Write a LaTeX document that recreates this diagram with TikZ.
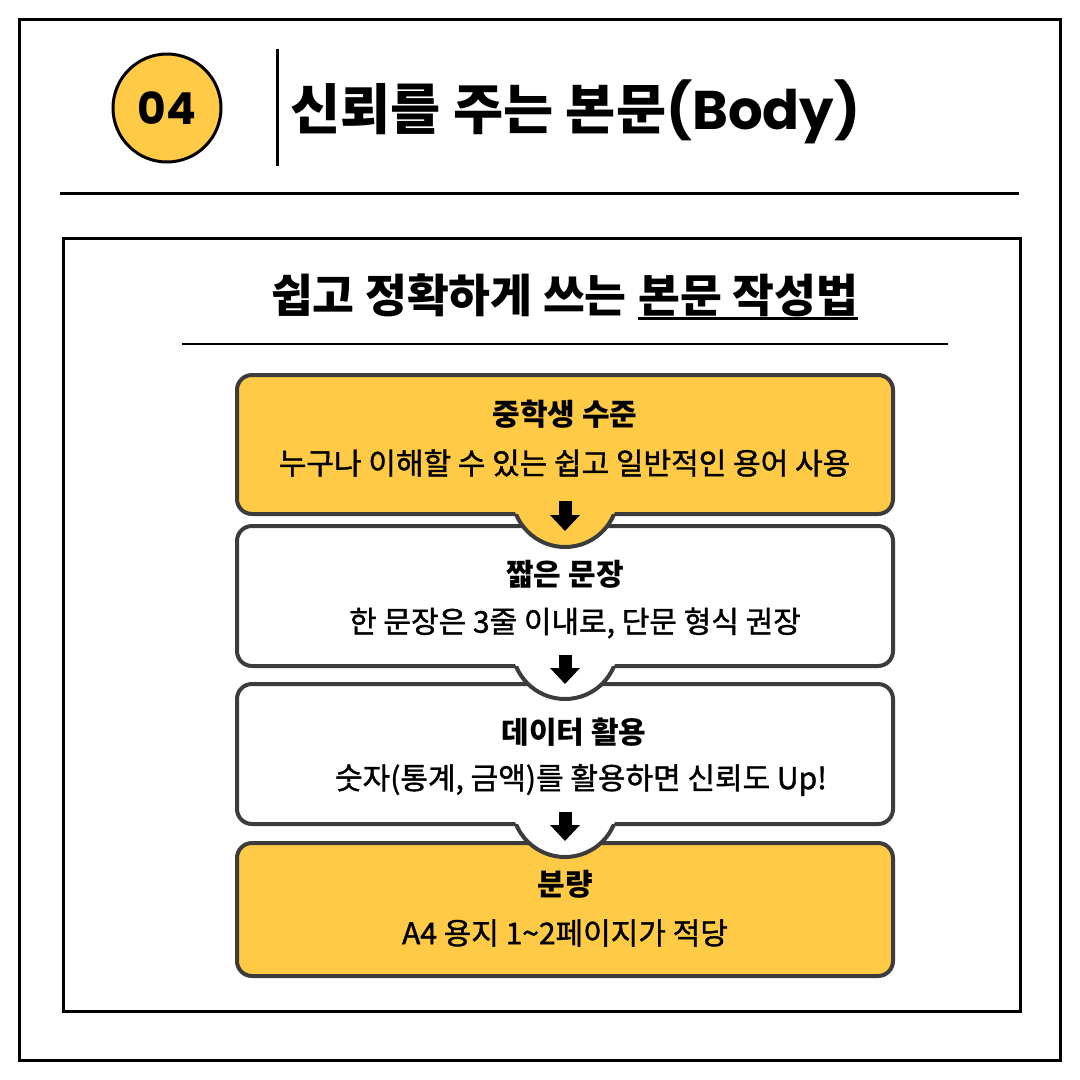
\documentclass[tikz,border=0pt]{standalone}
\usepackage{fontspec}
\setmainfont{Noto Sans CJK KR}
\newfontfamily\pop{Poppins}
\newfontfamily\krmed{Noto Sans CJK KR}[FakeBold=1.3]
\usetikzlibrary{arrows.meta}
\definecolor{yel}{HTML}{FFCB47}
\definecolor{bd}{HTML}{3C3C3C}
\tikzset{
  stepbox/.style={draw=bd, line width=4pt, rounded corners=15pt, minimum width=656pt, inner sep=0pt},
  headtxt/.style={inner sep=0pt, font=\fontsize{30}{30}\selectfont\bfseries},
  bodytxt/.style={inner sep=0pt, font=\fontsize{30}{30}\selectfont\krmed},
  downarr/.style={line width=13pt, -{Triangle[width=29pt,length=16pt]}},
  rulew/.style={line width=3pt}
}
\newcommand{\mybump}[2]{%
  \begin{scope}\clip (0,#1-3) rectangle (1080,#1+70); \fill[#2] (565,#1-20) circle (53); \end{scope}
  \begin{scope}\clip (0,#1) rectangle (1080,#1+70); \draw[bd, line width=4pt] (565,#1-20) circle (53); \end{scope}}
\begin{document}
\begin{tikzpicture}[x=1pt,y=-1pt]
\useasboundingbox (0,0) rectangle (1080,1080);
\fill[white] (0,0) rectangle (1080,1080);
\draw[rulew] (19,19) rectangle (1060,1060);
% header
\node[circle, draw, line width=3pt, fill=yel, minimum size=108pt, inner sep=0pt] (num) at (167,108) {\pop\bfseries\fontsize{44}{44}\selectfont 04};
\coordinate (vt) at (277,49);
\coordinate (vb) at (277,166);
\draw[rulew] (vt) -- (vb);
\node[anchor=west, inner sep=0pt] (title) at (290,112) {\fontsize{54.5}{54.5}\selectfont\bfseries 신뢰를 주는 본문{\pop(Body)}};
\coordinate (h1a) at (60,193);
\coordinate (h1b) at (1019,193);
\draw[rulew] (h1a) -- (h1b);
% inner frame
\draw[rulew] (63,238) rectangle (1020,1011);
\node[anchor=base west, inner sep=0pt] (sub2) at (638,312) {\fontsize{45.5}{45.5}\selectfont\bfseries 본문 작성법};
\node[anchor=base east, inner sep=0pt] (sub1) at ([xshift=-11pt]sub2.base west) {\fontsize{45.5}{45.5}\selectfont\bfseries 쉽고 정확하게 쓰는};
\draw[line width=3pt] ([yshift=-6pt]sub2.base west) -- ([yshift=-6pt]sub2.base east);
\coordinate (h2a) at (182,344);
\coordinate (h2b) at (948,344);
\draw[line width=2.5pt] (h2a) -- (h2b);
% boxes
\node[stepbox, fill=yel, minimum height=139pt] (b1) at (565,444.5) {};
\node[stepbox, fill=white, minimum height=140pt] (b2) at (565,596) {};
\mybump{514}{yel}
\node[stepbox, fill=white, minimum height=140pt] (b3) at (565,754) {};
\mybump{666}{white}
\node[stepbox, fill=yel, minimum height=133pt] (b4) at (565,909.5) {};
\mybump{824}{white}
% arrows
\draw[downarr] ([yshift=15pt]b1.south) -- ([yshift=-15pt]b1.south);
\draw[downarr] ([yshift=13pt]b2.south) -- ([yshift=-16pt]b2.south);
\draw[downarr] ([yshift=14pt]b3.south) -- ([yshift=-15pt]b3.south);
% texts
\node[headtxt] (t1a) at (565,414) {중학생 수준};
\node[bodytxt] (t1b) at (564.5,463) {누구나 이해할 수 있는 쉽고 일반적인 용어 사용};
\node[headtxt] (t2a) at (565,574) {짧은 문장};
\node[bodytxt] (t2b) at (575,623) {한 문장은 3줄 이내로, 단문 형식 권장};
\node[headtxt] (t3a) at (574,732) {데이터 활용};
\node[bodytxt] (t3b) at (581,780) {숫자(통계, 금액)를 활용하면 신뢰도 Up!};
\node[headtxt] (t4a) at (565,884) {분량};
\node[bodytxt] (t4b) at (565,933) {A4 용지 1\char"007E 2페이지가 적당};
\end{tikzpicture}
\end{document}
